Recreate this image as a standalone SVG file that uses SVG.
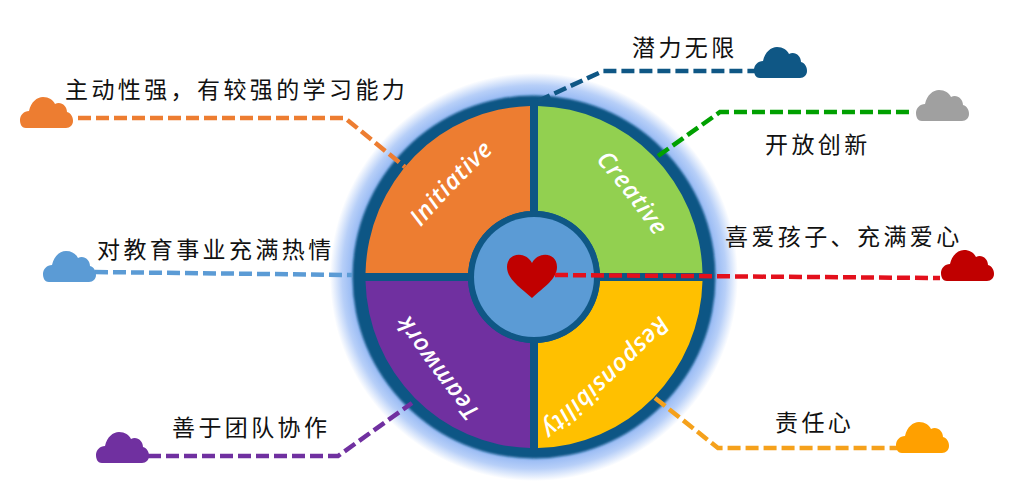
<svg xmlns="http://www.w3.org/2000/svg" width="1026" height="498" viewBox="0 0 1026 498">
<style>
.lb{font-family:"Noto Sans CJK SC","Liberation Sans",sans-serif;font-size:23px;fill:#111;letter-spacing:3.4px}
.wt{font-family:"Open Sans","Liberation Sans",sans-serif;font-style:italic;font-weight:600;font-size:24px;letter-spacing:.9px;fill:#fff;text-anchor:middle}
.c{fill:none;stroke-width:4.500;stroke-dasharray:13 5}
</style>
<defs>
<radialGradient id="glow" gradientUnits="userSpaceOnUse" cx="534" cy="277" r="204">
<stop offset="0.88" stop-color="#90b5f3"/><stop offset="0.94" stop-color="#b7cff8"/><stop offset="1" stop-color="#fff"/>
</radialGradient>
<filter id="soft" x="-5%" y="-5%" width="110%" height="110%"><feGaussianBlur stdDeviation="1.200"/></filter>
<path id="cloud" d="M6 31C1 31 0 26 0 23C0 18 4 14 9 14C11 5 17 0 23 0C29 0 33 3 35 7C41 4 47 9 47 15C51 16 53 20 53 24C53 28 50 31 46 31Z"/>
<path id="a1" d="M410 240.400Q454 186 507 139.600"/>
<path id="a2" d="M588 152Q629 196 661.500 246.600"/>
<path id="a3" d="M672 302Q603 375 526 440"/>
<path id="a4" d="M493 426.500Q441 366 398 297.500"/>
</defs>
<g id="wheel">
<circle cx="534" cy="277" r="204" fill="url(#glow)"/>
<circle cx="534" cy="277" r="181.500" fill="#0f5785" filter="url(#soft)"/>
</g>
<g id="initiative">
<path d="M530 273V106A168.500 171 0 0 0 365.500 273H468A66 66 0 0 1 530 211Z" fill="#ed7d31"/>
<text class="wt"><textPath href="#a1" startOffset="50%">Initiative</textPath></text>
</g>
<g id="creative">
<path d="M538 273V106A168.500 171 0 0 1 702.500 273H600A66 66 0 0 0 538 211Z" fill="#92d050"/>
<text class="wt"><textPath href="#a2" startOffset="50%">Creative</textPath></text>
</g>
<g id="responsibility">
<path d="M538 281V448A168.500 171 0 0 0 702.500 281H600A66 66 0 0 1 538 343Z" fill="#ffc000"/>
<text class="wt"><textPath href="#a3" startOffset="50%">Responsibility</textPath></text>
</g>
<g id="teamwork">
<path d="M530 281V448A168.500 171 0 0 1 365.500 281H468A66 66 0 0 0 530 343Z" fill="#7030a0"/>
<text class="wt"><textPath href="#a4" startOffset="50%">Teamwork</textPath></text>
</g>
<g id="hub">
<circle cx="534" cy="277" r="66" fill="#0f5785"/>
<circle cx="534" cy="277" r="60" fill="#5b9bd5"/>
<path d="M532 298C520 287 507 279 507 267C507 252 526 251 532 263C538 251 557 252 557 267C557 279 544 287 532 298Z" fill="#c00000"/>
</g>
<g id="connectors">
<path class="c" stroke="#ed7d31" d="M78 118H345L405 167"/>
<path class="c" stroke="#5b9bd5" d="M95 272L352 275"/>
<path class="c" stroke="#7030a0" d="M148 456H338L412 403"/>
<path class="c" stroke="#0f5785" d="M538 101L603 71H755"/>
<path class="c" stroke="#00a000" d="M658 156L720 112H914"/>
<path class="c" stroke="#e3101c" d="M555 275L940 278"/>
<path class="c" stroke="#f5a11c" d="M655 398L718 448H897"/>
</g>
<g id="n1"><use href="#cloud" x="20" y="97" fill="#ed7d31"/><text class="lb" x="65" y="98">主动性强，有较强的学习能力</text></g>
<g id="n2"><use href="#cloud" x="43" y="251" fill="#5b9bd5"/><text class="lb" x="97" y="258">对教育事业充满热情</text></g>
<g id="n3"><use href="#cloud" x="96" y="432" fill="#7030a0"/><text class="lb" x="172" y="436">善于团队协作</text></g>
<g id="n4"><use href="#cloud" x="754" y="47" fill="#0f5785"/><text class="lb" x="632" y="56">潜力无限</text></g>
<g id="n5"><use href="#cloud" x="916" y="90" fill="#a0a0a0"/><text class="lb" x="765" y="153">开放创新</text></g>
<g id="n6"><use href="#cloud" x="941" y="250" fill="#c00000"/><text class="lb" x="725" y="245">喜爱孩子、充满爱心</text></g>
<g id="n7"><use href="#cloud" x="896" y="422" fill="#ffa000"/><text class="lb" x="775" y="431">责任心</text></g>
</svg>
